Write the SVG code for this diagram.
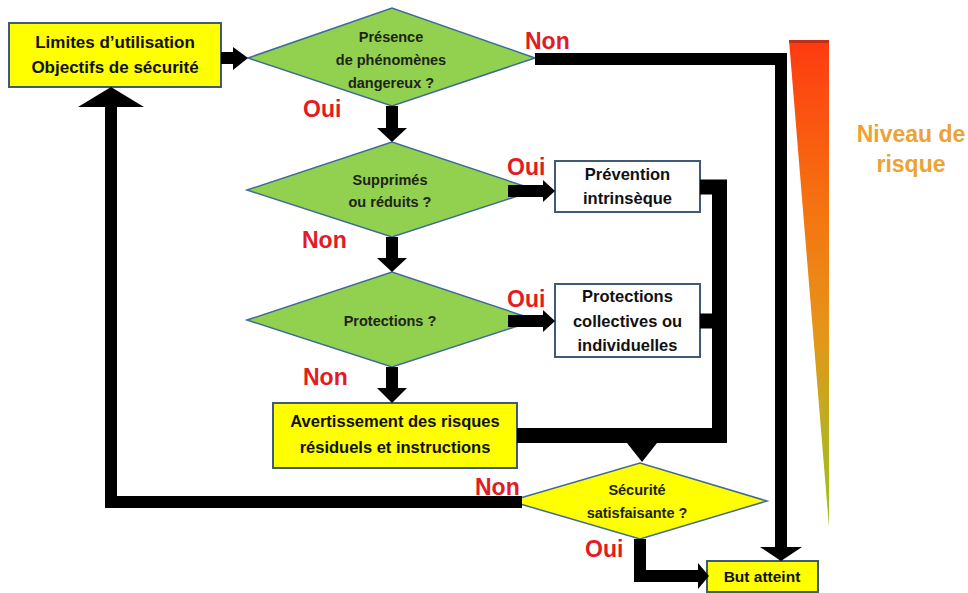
<svg xmlns="http://www.w3.org/2000/svg" width="968" height="593" viewBox="0 0 968 593">
<defs>
<linearGradient id="risk" x1="0" y1="0" x2="0" y2="1">
<stop offset="0" stop-color="#ff3a10"/>
<stop offset="0.35" stop-color="#f57410"/>
<stop offset="0.6" stop-color="#e59518"/>
<stop offset="0.8" stop-color="#bcae20"/>
<stop offset="1" stop-color="#98c41e"/>
</linearGradient>
</defs>
<style>
text{font-family:"Liberation Sans",Arial,sans-serif;font-weight:bold}
.yel{fill:#ffff00;stroke:#3d5a78;stroke-width:2}
.wht{fill:#ffffff;stroke:#3d5a78;stroke-width:2}
.grn{fill:#92d050;stroke:#3e6a96;stroke-width:1.5}
.ydia{fill:#ffff00;stroke:#3e6a96;stroke-width:1.5}
.t{fill:#111;text-anchor:middle}
.dt{fill:#1e2414;text-anchor:middle;font-size:14.5px}
.bt{font-size:16.5px}
.lab{fill:#e31b23;font-size:23px}
.ln{fill:none;stroke:#000;stroke-width:12;stroke-linejoin:miter;stroke-linecap:butt}
.lw{stroke-width:15}
.hd{fill:#000}
</style>
<rect width="968" height="593" fill="#ffffff"/>

<g id="risk-scale">
<polygon points="789,40 829,40 829,527" fill="url(#risk)"/>
<line x1="789" y1="41.5" x2="829" y2="41.5" stroke="#c03018" stroke-width="3"/>
<text x="911" y="142" font-size="23px" fill="#eda234" text-anchor="middle">Niveau de</text>
<text x="911" y="172" font-size="23px" fill="#eda234" text-anchor="middle">risque</text>
</g>

<g id="limites">
<rect class="yel" x="9" y="23" width="212" height="64"/>
<text class="t" x="115" y="48" font-size="17px">Limites d’utilisation</text>
<text class="t" x="115" y="73" font-size="17px">Objectifs de sécurité</text>
</g>

<g id="d-presence">
<polygon class="grn" points="248,58 392,8 535,58 392,106"/>
<text class="dt" x="391" y="42">Présence</text>
<text class="dt" x="391" y="65">de phénomènes</text>
<text class="dt" x="391" y="88">dangereux ?</text>
</g>

<g id="d-supprimes">
<polygon class="grn" points="247,190 392,142 536,190 392,237"/>
<text class="dt" x="390" y="185">Supprimés</text>
<text class="dt" x="390" y="207">ou réduits ?</text>
</g>

<g id="prevention">
<rect class="wht" x="555" y="161" width="145" height="51"/>
<text class="t bt" x="627.5" y="180">Prévention</text>
<text class="t bt" x="627.5" y="204">intrinsèque</text>
</g>

<g id="d-protections">
<polygon class="grn" points="247,320 392,272 536,320 392,367"/>
<text class="dt" x="390" y="326">Protections ?</text>
</g>

<g id="protections">
<rect class="wht" x="555" y="284" width="145" height="73"/>
<text class="t bt" x="627.5" y="302">Protections</text>
<text class="t bt" x="627.5" y="327">collectives ou</text>
<text class="t bt" x="627.5" y="351">individuelles</text>
</g>

<g id="avertissement">
<rect class="yel" x="273" y="403" width="244" height="65"/>
<text class="t bt" x="395" y="427">Avertissement des risques</text>
<text class="t bt" x="395" y="453">résiduels et instructions</text>
</g>

<g id="d-securite">
<polygon class="ydia" points="510,501 640,463 767,501 640,539"/>
<text class="dt" x="637" y="495">Sécurité</text>
<text class="dt" x="637" y="518">satisfaisante ?</text>
</g>

<g id="but">
<rect class="yel" x="707" y="561" width="111" height="31"/>
<text class="t" x="762" y="582" font-size="15.5px">But atteint</text>
</g>

<g id="connectors">
<path class="ln" d="M221,58 H234"/>
<polygon class="hd" points="233,47 248,58 233,70"/>
<path class="ln" d="M392,106 V129"/>
<polygon class="hd" points="377,128 407,128 392,142"/>
<path class="ln" d="M535,59 H781 V548"/>
<polygon class="hd" points="760,547 802,547 781,561"/>
<path class="ln" d="M508,191 H544"/>
<polygon class="hd" points="543,180 555,191 543,202"/>
<path class="ln" d="M392,237 V259"/>
<polygon class="hd" points="377,258 407,258 392,272"/>
<path class="ln" d="M508,321 H544"/>
<polygon class="hd" points="543,310 555,321 543,332"/>
<path class="ln" d="M392,367 V389"/>
<polygon class="hd" points="377,388 407,388 392,403"/>
<path class="ln lw" d="M700,187 H719.5 V435.5 H517"/>
<path class="ln lw" d="M700,321 H715"/>
<polygon class="hd" points="627,443 657,443 642,462"/>
<path class="ln" d="M522,502 H111 V106"/>
<polygon class="hd" points="78,107 144,107 111,87"/>
<path class="ln" d="M640,539 V576 H699"/>
<polygon class="hd" points="698,563 709,576 698,589"/>
</g>

<g id="labels">
<text class="lab" x="525" y="49">Non</text>
<text class="lab" x="303" y="117">Oui</text>
<text class="lab" x="507" y="175">Oui</text>
<text class="lab" x="302" y="248">Non</text>
<text class="lab" x="507" y="307">Oui</text>
<text class="lab" x="303" y="385">Non</text>
<text class="lab" x="475" y="495">Non</text>
<text class="lab" x="585" y="557">Oui</text>
</g>
</svg>
